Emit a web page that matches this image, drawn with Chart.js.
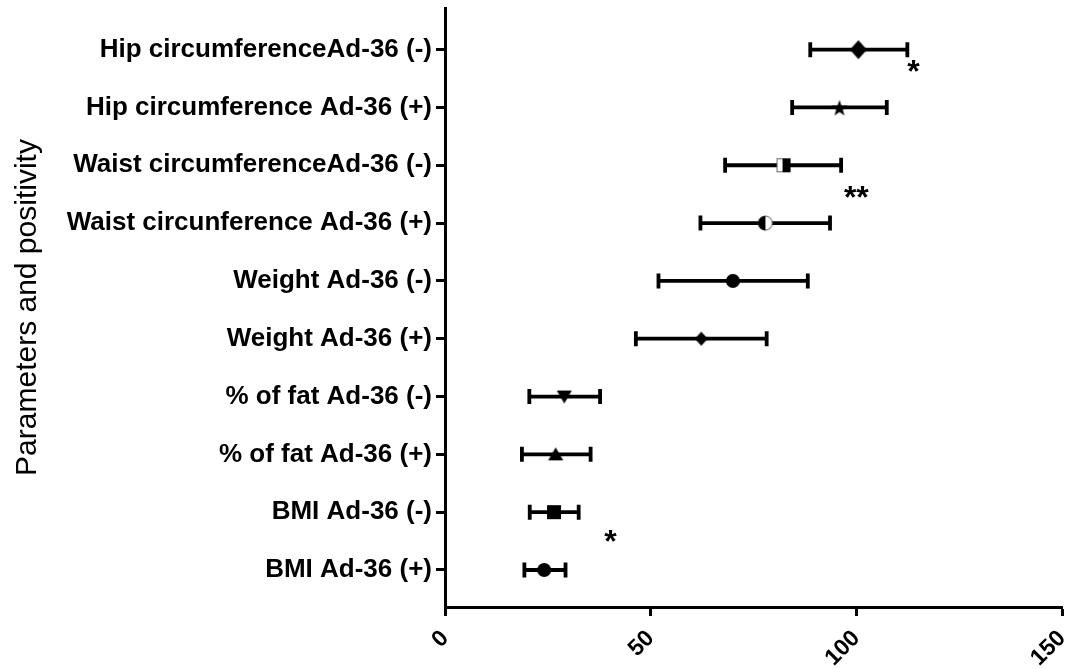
<!DOCTYPE html>
<html>
<head>
<meta charset="utf-8">
<script src="https://cdn.jsdelivr.net/npm/chart.js@4/dist/chart.umd.min.js"></script>
<style>
  html, body { margin: 0; padding: 0; background: #fff; }
  #wrap { width: 1070px; height: 669px; position: relative; }
</style>
</head>
<body>
<div id="wrap"><canvas id="chart"></canvas></div>
<script>
// === Data (top row first) ===
const categories = [
  "Hip circumferenceAd-36 (-)",
  "Hip circumference Ad-36 (+)",
  "Waist circumferenceAd-36 (-)",
  "Waist circunference Ad-36 (+)",
  "Weight Ad-36 (-)",
  "Weight Ad-36 (+)",
  "% of fat Ad-36 (-)",
  "% of fat Ad-36 (+)",
  "BMI Ad-36 (-)",
  "BMI Ad-36 (+)",
];
const means = [100.5, 95.9, 82.3, 77.9, 70.0, 62.3, 29.0, 26.9, 26.5, 24.1];
const lowers = [88.8, 84.4, 68.1, 62.1, 51.9, 46.4, 20.5, 18.7, 20.6, 19.3];
const uppers = [112.4, 107.4, 96.3, 93.6, 88.2, 78.2, 37.7, 35.4, 32.5, 29.3];
const markers = ["bigDiamond", "star", "halfSquare", "halfCircle", "circle", "diamond", "triDown", "triUp", "square", "circle"];

const xTicks = [0, 50, 100, 150];

// significance marks: text, x value, y row value
const sigText = ["*", "**", "*"];
const sigX = [113.9, 100.0, 40.2];
const sigY = [9.62, 7.44, 1.49];

const FONT = "'Liberation Sans', Arial, sans-serif";
const n = categories.length;
const rowOf = i => n - i;

// === Marker images ===
function makeMarker(kind) {
  const s = 24;
  const c = document.createElement("canvas");
  c.width = s; c.height = s;
  const g = c.getContext("2d");
  const m = s / 2;
  g.fillStyle = "#000";
  g.strokeStyle = "#000";
  g.beginPath();
  switch (kind) {
    case "bigDiamond":
      g.moveTo(m, m - 9.5); g.lineTo(m + 8.5, m); g.lineTo(m, m + 9.5); g.lineTo(m - 8.5, m);
      g.closePath(); g.fill();
      break;
    case "diamond":
      g.moveTo(m, m - 7); g.lineTo(m + 6.5, m); g.lineTo(m, m + 7); g.lineTo(m - 6.5, m);
      g.closePath(); g.fill();
      break;
    case "star":
      for (let k = 0; k < 10; k++) {
        const r = k % 2 === 0 ? 8.5 : 3.4;
        const a = -Math.PI / 2 + k * Math.PI / 5;
        const px = m + r * Math.cos(a), py = m + 1 + r * Math.sin(a);
        k === 0 ? g.moveTo(px, py) : g.lineTo(px, py);
      }
      g.closePath(); g.fill();
      break;
    case "halfSquare":
      g.fillStyle = "#fff";
      g.fillRect(m - 7, m - 7, 14, 14);
      g.lineWidth = 1; g.strokeStyle = "#666";
      g.strokeRect(m - 6.5, m - 6.5, 13, 13);
      g.fillStyle = "#000";
      g.fillRect(m - 1, m - 7, 8, 14);
      break;
    case "halfCircle":
      g.fillStyle = "#fff";
      g.arc(m, m, 7, 0, Math.PI * 2); g.fill();
      g.lineWidth = 1; g.strokeStyle = "#555"; g.stroke();
      g.beginPath();
      g.fillStyle = "#000";
      g.arc(m, m, 7.3, Math.PI / 2, Math.PI * 1.5); g.closePath(); g.fill();
      break;
    case "circle":
      g.arc(m, m, 7, 0, Math.PI * 2); g.fill();
      break;
    case "square":
      g.fillRect(m - 7, m - 7, 14, 14);
      break;
    case "triUp":
      g.moveTo(m, m - 7); g.lineTo(m + 7.5, m + 6); g.lineTo(m - 7.5, m + 6);
      g.closePath(); g.fill();
      break;
    case "triDown":
      g.moveTo(m, m + 7); g.lineTo(m + 7.5, m - 6); g.lineTo(m - 7.5, m - 6);
      g.closePath(); g.fill();
      break;
  }
  return c;
}
const markerImgs = markers.map(makeMarker);

// === Plugins: error bars drawn beneath markers, significance asterisks ===
const errorBars = {
  id: "errorBars",
  beforeDatasetsDraw(chart) {
    const { ctx, scales: { x, y } } = chart;
    ctx.save();
    ctx.strokeStyle = "#000";
    ctx.lineWidth = 3.8;
    ctx.lineCap = "butt";
    for (let i = 0; i < n; i++) {
      const py = y.getPixelForValue(rowOf(i));
      const x0 = x.getPixelForValue(lowers[i]);
      const x1 = x.getPixelForValue(uppers[i]);
      ctx.beginPath();
      ctx.moveTo(x0, py); ctx.lineTo(x1, py);
      ctx.moveTo(x0, py - 7.5); ctx.lineTo(x0, py + 7.5);
      ctx.moveTo(x1, py - 7.5); ctx.lineTo(x1, py + 7.5);
      ctx.stroke();
    }
    ctx.restore();
  },
};

const sigMarks = {
  id: "sigMarks",
  afterDatasetsDraw(chart) {
    const { ctx, scales: { x, y } } = chart;
    const size = 32;
    ctx.save();
    ctx.fillStyle = "#000";
    ctx.font = "bold " + size + "px " + FONT;
    ctx.textAlign = "center";
    ctx.textBaseline = "middle";
    sigText.forEach((t, i) => {
      ctx.fillText(t, x.getPixelForValue(sigX[i]), y.getPixelForValue(sigY[i]) + size * 0.05);
    });
    ctx.restore();
  },
};

new Chart(document.getElementById("chart"), {
  type: "scatter",
  data: {
    datasets: [{
      data: means.map((v, i) => ({ x: v, y: rowOf(i) })),
      pointStyle: markerImgs,
      pointRadius: 7,
      pointHoverRadius: 7,
    }],
  },
  options: {
    responsive: true,
    maintainAspectRatio: false,
    animation: false,
    events: [],
    layout: { padding: { top: 1, right: 7, left: 0, bottom: 0 } },
    plugins: { legend: { display: false }, tooltip: { enabled: false } },
    scales: {
      x: {
        type: "linear",
        min: 0,
        max: 150,
        afterBuildTicks(scale) { scale.ticks = xTicks.map(v => ({ value: v })); },
        afterFit(scale) {
          scale.height = 62;
          scale.paddingLeft = 0;
          scale.paddingRight = 0;
        },
        grid: { drawOnChartArea: false, tickLength: 9, tickWidth: 3, color: "#000" },
        border: { display: true, width: 3, color: "#000" },
        ticks: {
          color: "#000",
          font: { family: FONT, size: 23, weight: "bold" },
          minRotation: 45,
          maxRotation: 45,
          padding: 9,
        },
      },
      y: {
        type: "linear",
        min: 0.36,
        max: 10.72,
        afterBuildTicks(scale) { scale.ticks = categories.map((c, i) => ({ value: rowOf(i) })); },
        afterFit(scale) {
          scale.width = 445;
          scale.paddingTop = 0;
          scale.paddingBottom = 0;
        },
        grid: { drawOnChartArea: false, tickLength: 9, tickWidth: 3, color: "#000" },
        border: { display: true, width: 3, color: "#000" },
        ticks: {
          color: "#000",
          font: { family: FONT, size: 26, weight: "bold" },
          padding: 4,
          callback: v => categories[n - v],
        },
        title: {
          display: true,
          text: "Parameters and positivity",
          color: "#000",
          font: { family: FONT, size: 30 },
          padding: { top: 10, bottom: 0 },
        },
      },
    },
  },
  plugins: [errorBars, sigMarks],
});
</script>
</body>
</html>
